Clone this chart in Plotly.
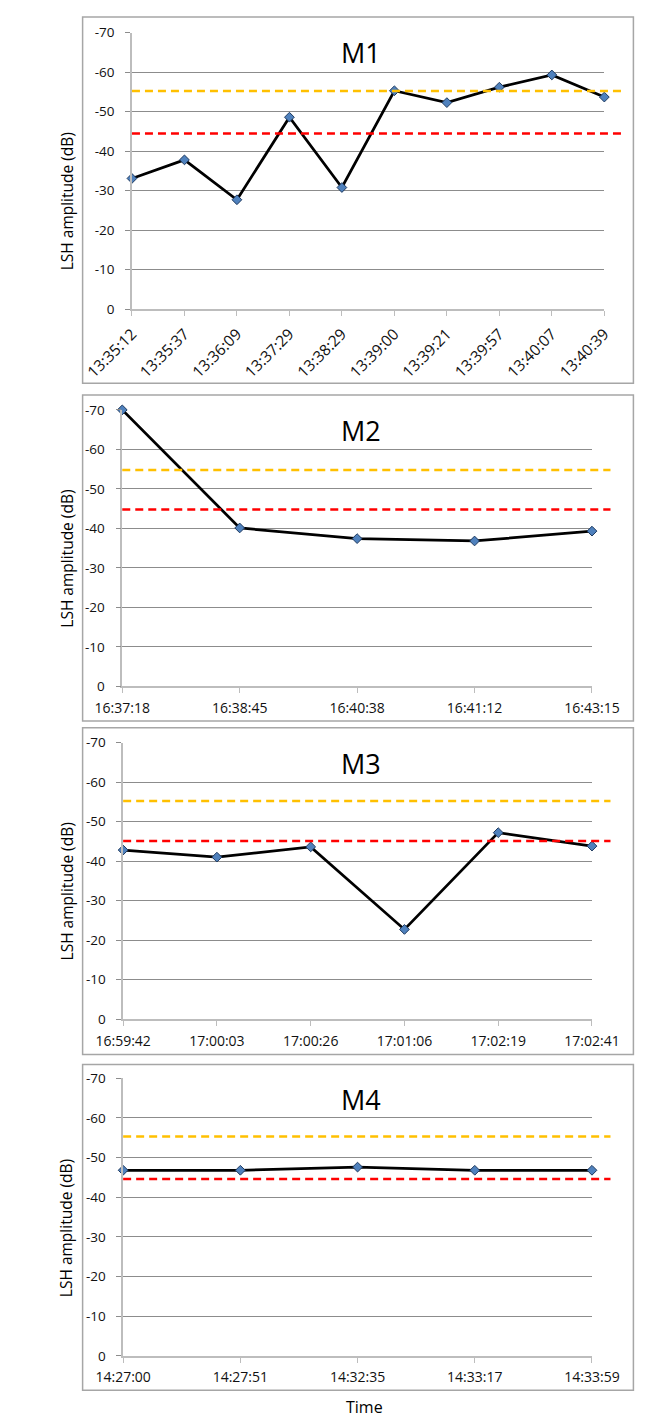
import plotly.graph_objects as go

# ---------------- data ----------------
m1_times = ["13:35:12", "13:35:37", "13:36:09", "13:37:29", "13:38:29",
            "13:39:00", "13:39:21", "13:39:57", "13:40:07", "13:40:39"]
m1_values = [-33.1, -37.8, -27.7, -48.6, -30.8, -55.3, -52.3, -56.2, -59.3, -53.7]
m1_yellow = -55.25
m1_red = -44.5

m2_times = ["16:37:18", "16:38:45", "16:40:38", "16:41:12", "16:43:15"]
m2_values = [-70.0, -40.1, -37.4, -36.8, -39.3]
m2_yellow = -54.8
m2_red = -44.8

m3_times = ["16:59:42", "17:00:03", "17:00:26", "17:01:06", "17:02:19", "17:02:41"]
m3_values = [-42.8, -41.0, -43.6, -22.7, -47.2, -43.8]
m3_yellow = -55.2
m3_red = -45.1

m4_times = ["14:27:00", "14:27:51", "14:32:35", "14:33:17", "14:33:59"]
m4_values = [-46.8, -46.8, -47.6, -46.8, -46.8]
m4_yellow = -55.3
m4_red = -44.6

panel_titles = ["M1", "M2", "M3", "M4"]
y_tick_values = [0, -10, -20, -30, -40, -50, -60, -70]
y_tick_labels = ["0", "-10", "-20", "-30", "-40", "-50", "-60", "-70"]
y_title = "LSH amplitude (dB)"
x_title = "Time"

# ---------------- layout geometry (pixels) ----------------
W, H = 657, 1425
FONT = "Open Sans"

def px(x):
    return x / W

def py(y):
    return 1 - y / H

panels = [
    dict(l=93, r=629, t=24, b=304, dash_r=648, box_t=8, box_b=379, ytc=195, ttl=44, xangle=-45, xfs=15.5),
    dict(l=82, r=615, t=406, b=686, dash_r=636, box_t=391, box_b=721, ytc=557, ttl=427, xangle=0, xfs=14),
    dict(l=83, r=615, t=743, b=1023, dash_r=636, box_t=728, box_b=1059, ytc=894, ttl=764, xangle=0, xfs=14),
    dict(l=83, r=615, t=1083, b=1364, dash_r=636, box_t=1069, box_b=1399, ytc=1235, ttl=1104, xangle=0, xfs=14),
]
series = [
    (m1_times, m1_values, m1_yellow, m1_red),
    (m2_times, m2_values, m2_yellow, m2_red),
    (m3_times, m3_values, m3_yellow, m3_red),
    (m4_times, m4_values, m4_yellow, m4_red),
]

GRID = "#8c8c8c"
AXIS = "#bdbdbd"
BOX = "#a6a6a6"

fig = go.Figure()
shapes = []
annotations = []

for i, (p, (times, vals, yel, red)) in enumerate(zip(panels, series)):
    k = "" if i == 0 else str(i + 1)
    xa, ya = "x" + k, "y" + k

    fig.add_trace(go.Scatter(
        x=times, y=vals, mode="lines+markers",
        xaxis=xa, yaxis=ya, cliponaxis=False, showlegend=False,
        line=dict(color="black", width=2.75),
        marker=dict(symbol="diamond", size=7.5, color="#4f81bd",
                    line=dict(color="#1f3a5f", width=1)),
    ))

    fig.layout["xaxis" + k] = dict(
        domain=[px(p["l"]), px(p["r"])], anchor=ya, type="category",
        range=[0, len(times) - 1], showgrid=False, zeroline=False,
        showline=True, linecolor=AXIS, linewidth=1.5,
        ticks="outside", ticklen=5, tickcolor=AXIS, tickwidth=1,
        tickangle=p["xangle"], ticklabelstandoff=3,
        tickfont=dict(family=FONT, size=p["xfs"], color="#111"),
        fixedrange=True,
    )
    fig.layout["yaxis" + k] = dict(
        domain=[py(p["b"]), py(p["t"])], anchor=xa,
        range=[0, -70], tickvals=y_tick_values, ticktext=y_tick_labels,
        showgrid=True, gridcolor=GRID, gridwidth=1, zeroline=False,
        showline=True, linecolor=AXIS, linewidth=1.5,
        ticks="outside", ticklen=5, tickcolor=GRID, tickwidth=1,
        ticklabelstandoff=8,
        tickfont=dict(family=FONT, size=13.5, color="#111"),
        fixedrange=True,
    )

    for thr, col in ((yel, "#ffc000"), (red, "#ff0000")):
        shapes.append(dict(type="line", xref="paper", yref=ya,
                           x0=px(p["l"]), x1=px(p["dash_r"]), y0=thr, y1=thr,
                           line=dict(color=col, width=2.5, dash="8px,5px"),
                           layer="above"))

    shapes.append(dict(type="rect", xref="paper", yref="paper",
                       x0=px(37), x1=px(W + 5), y0=py(p["box_b"]), y1=py(p["box_t"]),
                       line=dict(color=BOX, width=1.5), fillcolor="rgba(0,0,0,0)",
                       layer="below"))

    annotations.append(dict(text=panel_titles[i], xref="paper", yref="paper",
                            x=px(353), y=py(p["ttl"]),
                            xanchor="center", yanchor="middle", showarrow=False,
                            font=dict(family=FONT, size=27, color="black")))
    annotations.append(dict(text=y_title, xref="paper", yref="paper",
                            x=px(19), y=py(p["ytc"]), textangle=-90,
                            xanchor="center", yanchor="middle", showarrow=False,
                            font=dict(family=FONT, size=15.5, color="black")))

annotations.append(dict(text=x_title, xref="paper", yref="paper",
                        x=px(357), y=py(1416), xanchor="center", yanchor="middle",
                        showarrow=False, font=dict(family=FONT, size=16, color="black")))

fig.update_layout(
    width=W, height=H, margin=dict(l=0, r=0, t=0, b=0),
    paper_bgcolor="white", plot_bgcolor="white",
    shapes=shapes, annotations=annotations, showlegend=False,
)

fig.write_html("out.html", config={"displayModeBar": False})
